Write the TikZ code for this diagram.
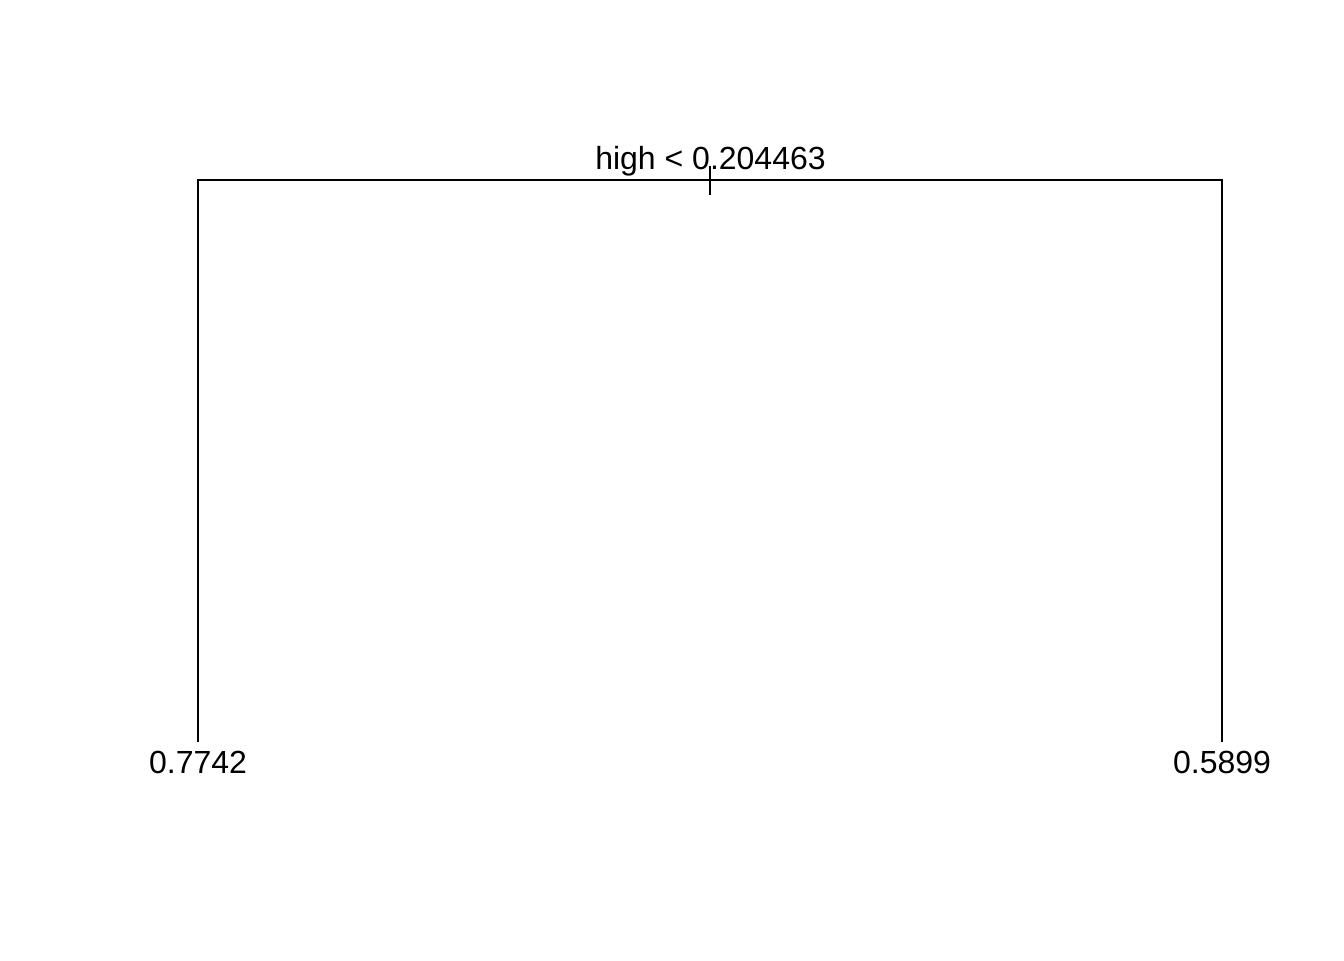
\documentclass[tikz,border=0pt]{standalone}
\usepackage{fontspec}
\setmainfont{Liberation Sans}
\begin{document}
\begin{tikzpicture}[x=0.75pt,y=-0.75pt,
  treeline/.style={draw=black,line width=1.5pt,line cap=butt,line join=miter},
  lbl/.style={inner sep=0pt,anchor=base,font=\fontsize{24}{28}\selectfont}]
\useasboundingbox (0,0) rectangle (1344,960);
\coordinate (root) at (710,180);
\coordinate (lt) at (198,180);
\coordinate (rt) at (1222,180);
\coordinate (lb) at (198,742);
\coordinate (rb) at (1222,742);
\coordinate (tickt) at (710,166);
\coordinate (tickb) at (710,195);
\draw[treeline] (lb) -- (lt) -- (rt) -- (rb);
\draw[treeline] (tickt) -- (tickb);
\node[lbl] (split) at (710.5,169) {high < 0.204463};
\node[lbl] (leafL) at (198,773.5) {0.7742};
\node[lbl] (leafR) at (1222,773.5) {0.5899};
\end{tikzpicture}
\end{document}
